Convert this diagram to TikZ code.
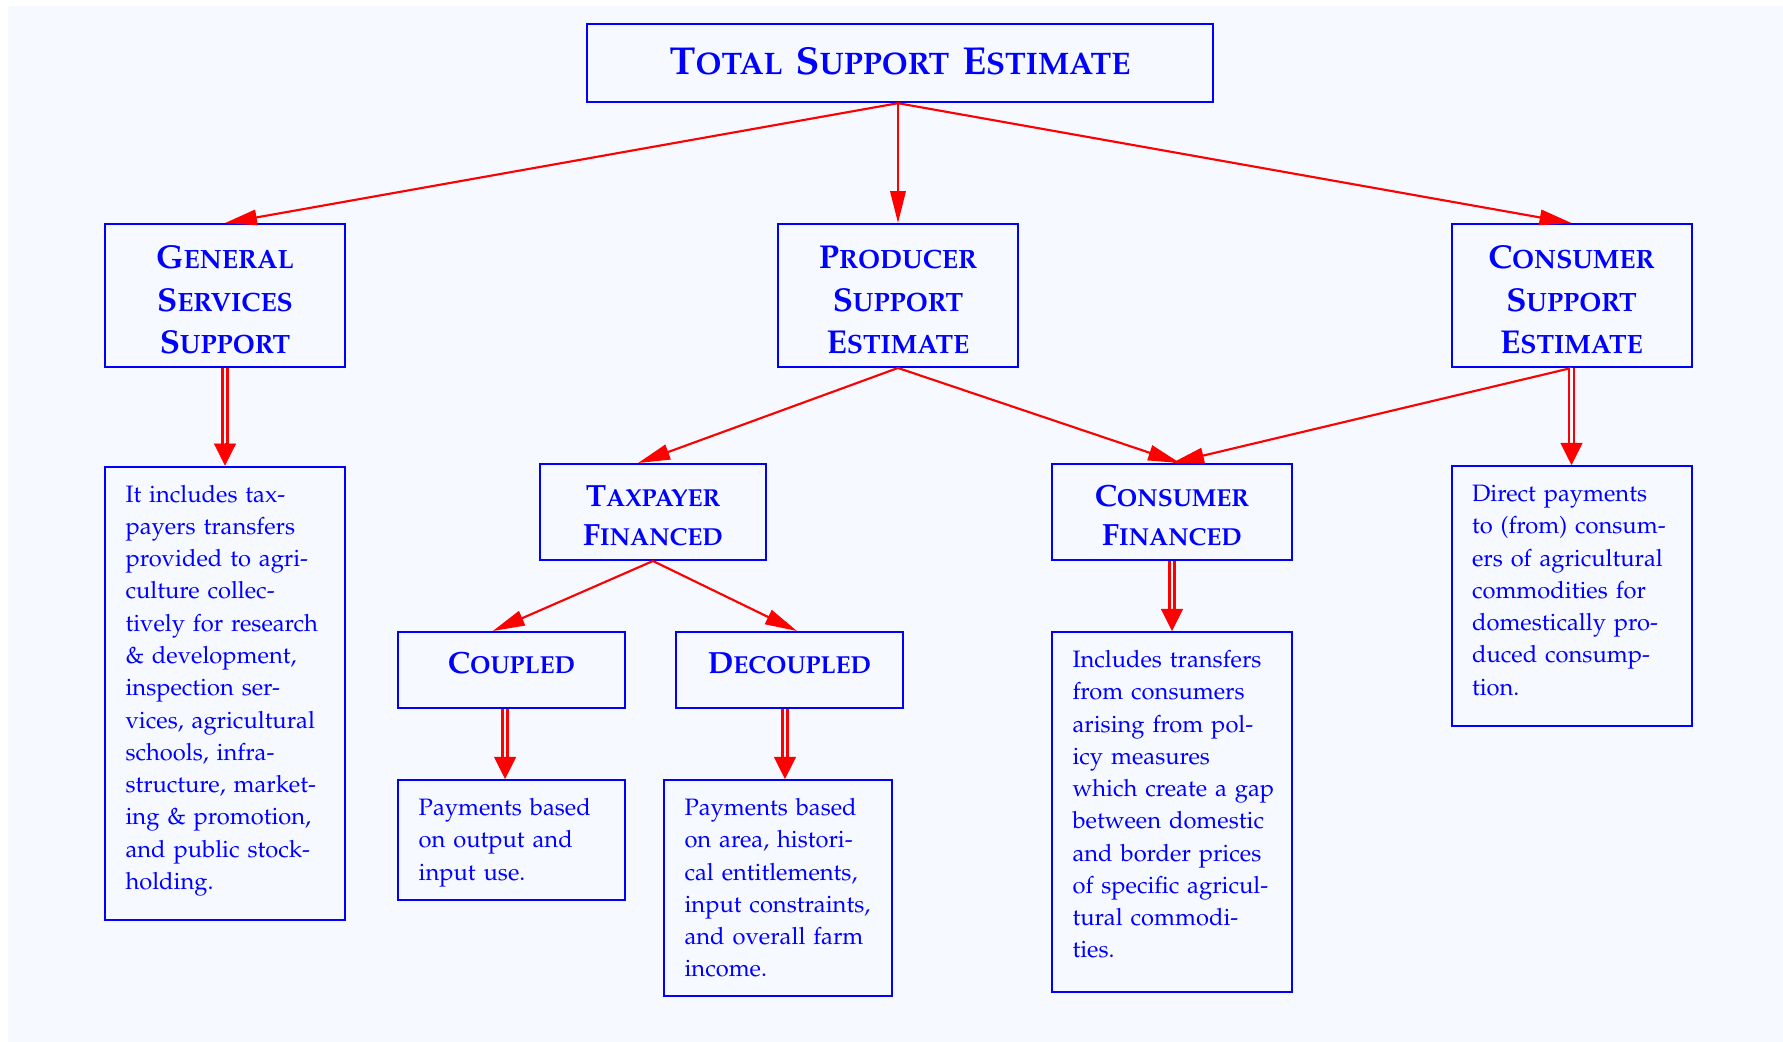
\documentclass[tikz,border=0pt]{standalone}
\usepackage[T1]{fontenc}
\usepackage{mathpazo}
\usetikzlibrary{arrows.meta}
\definecolor{bgc}{RGB}{246,249,255}
\definecolor{bl}{RGB}{0,0,255}
\definecolor{rd}{RGB}{255,0,0}
\newcommand\scw[2]{#1{\fontsize{\scs}{0pt}\selectfont#2}}
\def\scs{10}
\tikzset{
  frame/.style={draw=bl, line width=0.75pt, inner sep=0pt},
  ttl/.style={text=bl, font=\fontsize{14.6}{18}\selectfont\bfseries\def\scs{11.68}, align=center, text width=230pt, inner sep=0pt, anchor=base},
  hd/.style={text=bl, font=\fontsize{12.4}{16.05}\selectfont\bfseries\def\scs{9.92}, align=center, text width=88pt, inner sep=0pt, anchor=base},
  hdb/.style={text=bl, font=\fontsize{11.5}{14.7}\selectfont\bfseries\def\scs{9.2}, align=center, text width=84pt, inner sep=0pt, anchor=base},
  ds/.style={text=bl, font=\fontsize{8.9}{12.1}\selectfont, align=left, text width=100pt, inner sep=0pt, anchor=base west},
  sarrow/.style={draw=rd, line width=0.8pt, -{Triangle[length=12pt,width=5.8pt]}},
  dline/.style={draw=rd, line width=0.9pt, double=bgc, double distance=1pt},
  dtip/.style={draw=rd, line width=0.2pt, -{Triangle[length=8.3pt,width=8.3pt]}}
}
\begin{document}
\begin{tikzpicture}[x=0.375pt, y=-0.375pt]
\useasboundingbox (0,0) rectangle (1783,1042);
\fill[white] (0,0) rectangle (1783,1042);
\fill[bgc] (8,6) rectangle (1783,1042);

% frames
\node[frame, minimum width=235pt, minimum height=29.4pt] (title) at (900,63) {};
\node[frame, minimum width=90pt, minimum height=53.6pt] (gss) at (225,295.5) {};
\node[frame, minimum width=90pt, minimum height=53.6pt] (pse) at (898,295.5) {};
\node[frame, minimum width=90pt, minimum height=53.6pt] (cse) at (1571.5,295.5) {};
\node[frame, minimum width=90pt, minimum height=170pt] (gssd) at (225,693.3) {};
\node[frame, minimum width=85pt, minimum height=36pt] (tax) at (653,512) {};
\node[frame, minimum width=90pt, minimum height=36pt] (cf) at (1172,512) {};
\node[frame, minimum width=90pt, minimum height=97.5pt] (csed) at (1571.5,596) {};
\node[frame, minimum width=85pt, minimum height=28.5pt] (cpl) at (511.5,670) {};
\node[frame, minimum width=85pt, minimum height=28.5pt] (dcpl) at (789.5,670) {};
\node[frame, minimum width=85pt, minimum height=45pt] (cpld) at (511.5,840) {};
\node[frame, minimum width=85.5pt, minimum height=81pt] (dcpld) at (778,888) {};
\node[frame, minimum width=90pt, minimum height=135pt] (cfd) at (1172,812) {};

% headings
\node[ttl] (titlet) at (900,75) {\scw{T}{OTAL} \scw{S}{UPPORT} \scw{E}{STIMATE}};
\node[hd] (gsst) at (225,268.3) {\scw{G}{ENERAL}\\\scw{S}{ERVICES}\\\scw{S}{UPPORT}};
\node[hd] (pset) at (898,268.3) {\scw{P}{RODUCER}\\\scw{S}{UPPORT}\\\scw{E}{STIMATE}};
\node[hd] (cset) at (1571.5,268.3) {\scw{C}{ONSUMER}\\\scw{S}{UPPORT}\\\scw{E}{STIMATE}};
\node[hdb] (taxt) at (653,506.4) {\scw{T}{AXPAYER}\\\scw{F}{INANCED}};
\node[hdb] (cft) at (1172,506.4) {\scw{C}{ONSUMER}\\\scw{F}{INANCED}};
\node[hdb] (cplt) at (511.5,673) {\scw{C}{OUPLED}};
\node[hdb] (dcplt) at (789.5,673) {\scw{D}{ECOUPLED}};

% descriptions
\node[ds] (gssdt) at ([shift={(21,36.5)}]gssd.north west) {It includes tax-\\payers transfers\\provided to agri-\\culture collec-\\tively for research\\\& development,\\inspection ser-\\vices, agricultural\\schools, infra-\\structure, market-\\ing \& promotion,\\and public stock-\\holding.};
\node[ds] (cpldt) at ([shift={(21,36.5)}]cpld.north west) {Payments based\\on output and\\input use.};
\node[ds] (dcpldt) at ([shift={(21,36.5)}]dcpld.north west) {Payments based\\on area, histori-\\cal entitlements,\\input constraints,\\and overall farm\\income.};
\node[ds] (cfdt) at ([shift={(21,36.5)}]cfd.north west) {Includes transfers\\from consumers\\arising from pol-\\icy measures\\which create a gap\\between domestic\\and border prices\\of specific agricul-\\tural commodi-\\ties.};
\node[ds] (csedt) at ([shift={(21,36.5)}]csed.north west) {Direct payments\\to (from) consum-\\ers of agricultural\\commodities for\\domestically pro-\\duced consump-\\tion.};

% single arrows
\draw[sarrow] (title.south -| pse.north) -- (gss.north);
\draw[sarrow] (title.south -| pse.north) -- (pse.north);
\draw[sarrow] (title.south -| pse.north) -- (cse.north);
\draw[sarrow] (pse.south) -- ([xshift=-5.6pt]tax.north);
\draw[sarrow] (pse.south) -- ([xshift=3pt]cf.north);
\draw[sarrow] (cse.south) -- (cf.north);
\draw[sarrow] (tax.south) -- ([xshift=-7pt]cpl.north);
\draw[sarrow] (tax.south) -- ([xshift=2.8pt]dcpl.north);

% double arrows
\draw[dline] (gss.south) -- ([yshift=8pt]gssd.north);
\draw[dtip] ([yshift=8.4pt]gssd.north) -- (gssd.north);
\draw[dline] (cse.south) -- ([yshift=8pt]csed.north);
\draw[dtip] ([yshift=8.4pt]csed.north) -- (csed.north);
\draw[dline] (cf.south) -- ([yshift=8pt]cfd.north);
\draw[dtip] ([yshift=8.4pt]cfd.north) -- (cfd.north);
\draw[dline] ([xshift=-2.4pt]cpl.south) -- ([xshift=-2.4pt,yshift=8pt]cpl.south |- cpld.north);
\draw[dtip] ([xshift=-2.4pt,yshift=8.4pt]cpl.south |- cpld.north) -- ([xshift=-2.4pt]cpl.south |- cpld.north);
\draw[dline] ([xshift=-1.7pt]dcpl.south) -- ([xshift=-1.7pt,yshift=8pt]dcpl.south |- dcpld.north);
\draw[dtip] ([xshift=-1.7pt,yshift=8.4pt]dcpl.south |- dcpld.north) -- ([xshift=-1.7pt]dcpl.south |- dcpld.north);
\end{tikzpicture}
\end{document}
